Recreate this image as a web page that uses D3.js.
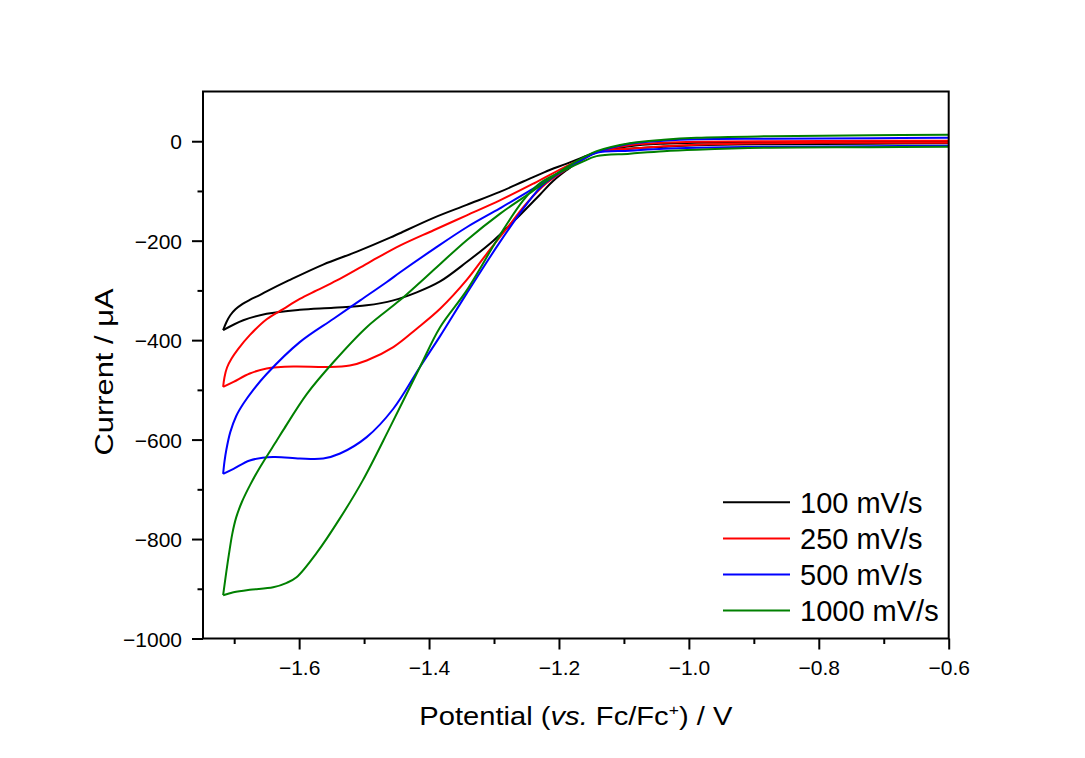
<!DOCTYPE html>
<html>
<head>
<meta charset="utf-8">
<script src="https://cdn.jsdelivr.net/npm/d3@7"></script>
<style>
  body { margin: 0; background: #fff; }
  svg text { font-family: "Liberation Sans", Arial, sans-serif; fill: #000; }
</style>
</head>
<body>
<svg id="chart" width="1085" height="758"></svg>
<script>
// potential (V vs Fc/Fc+), current (uA); forward scan runs right -> left, reverse back
const fwd100 = [[-0.600,-4],[-0.720,-5],[-0.875,-6],[-0.988,-8],[-1.039,-11],[-1.091,-15],[-1.142,-22],[-1.165,-37],[-1.188,-58],[-1.209,-80],[-1.229,-107],[-1.265,-155],[-1.301,-200],[-1.342,-243],[-1.383,-282],[-1.419,-304],[-1.455,-320],[-1.496,-330],[-1.547,-335],[-1.599,-339],[-1.650,-347],[-1.686,-360],[-1.717,-380]];
const rev100 = [[-1.717,-380],[-1.712,-364],[-1.706,-350],[-1.698,-338],[-1.687,-327],[-1.676,-319],[-1.660,-309],[-1.650,-302],[-1.616,-280],[-1.563,-248],[-1.511,-222],[-1.460,-194],[-1.445,-185],[-1.393,-154],[-1.342,-128],[-1.291,-102],[-1.255,-81],[-1.222,-62],[-1.188,-45],[-1.163,-32],[-1.142,-22],[-1.091,-10],[-1.039,-5],[-0.988,-3],[-0.875,-2],[-0.720,-1],[-0.600,-1]];

const fwd250 = [[-0.600,-3],[-0.720,-3],[-0.875,-4],[-0.988,-7],[-1.039,-10],[-1.091,-15],[-1.142,-22],[-1.165,-38],[-1.188,-56],[-1.219,-84],[-1.250,-125],[-1.280,-175],[-1.311,-226],[-1.342,-279],[-1.383,-337],[-1.419,-377],[-1.455,-414],[-1.496,-441],[-1.522,-451],[-1.557,-454],[-1.609,-453],[-1.650,-457],[-1.676,-467],[-1.701,-484],[-1.717,-494]];
const rev250 = [[-1.717,-494],[-1.715,-475],[-1.711,-455],[-1.704,-437],[-1.694,-418],[-1.676,-390],[-1.650,-358],[-1.624,-337],[-1.599,-317],[-1.573,-300],[-1.542,-280],[-1.494,-245],[-1.445,-210],[-1.393,-179],[-1.342,-149],[-1.291,-119],[-1.239,-85],[-1.188,-50],[-1.163,-35],[-1.142,-22],[-1.091,-8],[-1.039,-3],[-0.988,-1],[-0.875,0],[-0.720,1],[-0.600,1]];

const fwd500 = [[-0.600,-9],[-0.720,-10],[-0.875,-11],[-0.988,-13],[-1.039,-15],[-1.091,-19],[-1.142,-23],[-1.165,-38],[-1.188,-55],[-1.224,-87],[-1.250,-127],[-1.291,-203],[-1.342,-306],[-1.383,-392],[-1.414,-454],[-1.455,-538],[-1.496,-595],[-1.537,-628],[-1.563,-638],[-1.599,-638],[-1.640,-635],[-1.676,-642],[-1.701,-659],[-1.717,-669]];
const rev500 = [[-1.717,-669],[-1.715,-645],[-1.712,-620],[-1.706,-585],[-1.697,-553],[-1.686,-528],[-1.670,-499],[-1.650,-468],[-1.599,-404],[-1.547,-357],[-1.506,-320],[-1.465,-283],[-1.445,-264],[-1.393,-217],[-1.342,-173],[-1.291,-135],[-1.239,-95],[-1.188,-53],[-1.163,-35],[-1.142,-22],[-1.091,-5],[-1.039,1],[-0.988,4],[-0.875,5],[-0.720,6],[-0.600,7]];

const fwd1000 = [[-0.600,-11],[-0.720,-12],[-0.875,-13],[-0.988,-17],[-1.039,-20],[-1.091,-25],[-1.142,-30],[-1.165,-42],[-1.188,-56],[-1.229,-84],[-1.255,-119],[-1.291,-189],[-1.342,-300],[-1.383,-374],[-1.414,-454],[-1.460,-575],[-1.502,-682],[-1.537,-758],[-1.573,-828],[-1.604,-877],[-1.619,-888],[-1.640,-897],[-1.676,-902],[-1.701,-907],[-1.717,-913]];
const rev1000 = [[-1.717,-913],[-1.712,-865],[-1.708,-830],[-1.703,-790],[-1.697,-757],[-1.688,-725],[-1.675,-690],[-1.660,-655],[-1.634,-601],[-1.624,-580],[-1.588,-508],[-1.547,-444],[-1.496,-374],[-1.445,-320],[-1.414,-284],[-1.393,-259],[-1.342,-199],[-1.291,-146],[-1.239,-99],[-1.188,-52],[-1.163,-33],[-1.142,-20],[-1.091,-4],[-1.039,3],[-0.988,7],[-0.875,10],[-0.720,12],[-0.600,13]];

const scanRates = ['100 mV/s', '250 mV/s', '500 mV/s', '1000 mV/s'];
const colors = ['#000000', '#ff0000', '#0000ff', '#008000'];
const loops = [[fwd100, rev100], [fwd250, rev250], [fwd500, rev500], [fwd1000, rev1000]];

const xMajor = [-1.6, -1.4, -1.2, -1.0, -0.8, -0.6];
const xMinor = [-1.7, -1.5, -1.3, -1.1, -0.9, -0.7];
const yMajor = [0, -200, -400, -600, -800, -1000];
const yMinor = [-100, -300, -500, -700, -900];

const plotLeft = 203, plotRight = 948.7, plotTop = 91.5, plotBottom = 638.5;

const svg = d3.select('#chart');
svg.append('rect').attr('width', 1085).attr('height', 758).attr('fill', '#fff');

const x = d3.scaleLinear().domain([-1.748, -0.6]).range([plotLeft, plotRight]);
const y = d3.scaleLinear().domain([-1000, 100]).range([plotBottom, plotTop]);

const locale = d3.formatLocale({ decimal: '.', thousands: '', grouping: [3], currency: ['', ''], minus: '\u2212' });

// curves
const line = d3.line()
	.curve(d3.curveCatmullRom.alpha(0.5))
	.x((d) => x(d[0]))
	.y((d) => y(d[1]));

loops.forEach(function(loop, i) {
	loop.forEach(function(branch) {
		svg.append('path')
			.datum(branch)
			.attr('fill', 'none')
			.attr('stroke', colors[i])
			.attr('stroke-width', 2)
			.attr('stroke-linejoin', 'round')
			.attr('d', line);
	});
});

// axes
function styleAxis(g) {
	g.select('.domain').remove();
	g.selectAll('.tick line').attr('stroke', '#000').attr('stroke-width', 2);
}

const gx = svg.append('g').attr('transform', 'translate(0,' + plotBottom + ')');
gx.call(d3.axisBottom(x).tickValues(xMajor).tickSize(11).tickFormat(locale.format('.1f'))).call(styleAxis);
gx.selectAll('.tick text').attr('y', 36.5).attr('dy', 0).attr('font-size', 21);
svg.append('g').attr('transform', 'translate(0,' + plotBottom + ')')
	.call(d3.axisBottom(x).tickValues(xMinor).tickSize(5.5).tickFormat('')).call(styleAxis);

const gy = svg.append('g').attr('transform', 'translate(' + plotLeft + ',0)');
gy.call(d3.axisLeft(y).tickValues(yMajor).tickSize(11).tickFormat(locale.format('d'))).call(styleAxis);
gy.selectAll('.tick text').attr('x', -21).attr('dy', '0.36em').attr('font-size', 21);
svg.append('g').attr('transform', 'translate(' + plotLeft + ',0)')
	.call(d3.axisLeft(y).tickValues(yMinor).tickSize(5.5).tickFormat('')).call(styleAxis);

svg.append('rect')
	.attr('x', plotLeft).attr('y', plotTop)
	.attr('width', plotRight - plotLeft).attr('height', plotBottom - plotTop)
	.attr('fill', 'none').attr('stroke', '#000').attr('stroke-width', 2);

// axis titles
const xt = svg.append('text')
	.attr('x', (plotLeft + plotRight) / 2).attr('y', 725)
	.attr('text-anchor', 'middle').attr('font-size', 25)
	.attr('textLength', 313).attr('lengthAdjust', 'spacingAndGlyphs');
xt.append('tspan').text('Potential (');
xt.append('tspan').attr('font-style', 'italic').text('vs.');
xt.append('tspan').text(' Fc/Fc');
xt.append('tspan').attr('font-size', 15).attr('dy', -10).text('+');
xt.append('tspan').attr('dy', 10).text(') / V');

svg.append('text')
	.attr('transform', 'translate(113,372) rotate(-90)')
	.attr('text-anchor', 'middle').attr('font-size', 25)
	.attr('textLength', 167).attr('lengthAdjust', 'spacingAndGlyphs')
	.text('Current / \u03bcA');

// legend
const legend = svg.append('g');
scanRates.forEach(function(name, i) {
	const ly = 502.3 + i * 36.1;
	legend.append('line')
		.attr('x1', 723).attr('x2', 790).attr('y1', ly).attr('y2', ly)
		.attr('stroke', colors[i]).attr('stroke-width', 2);
	legend.append('text')
		.attr('x', 800).attr('y', ly + 10.5)
		.attr('font-size', 29)
		.text(name);
});
</script>
</body>
</html>
